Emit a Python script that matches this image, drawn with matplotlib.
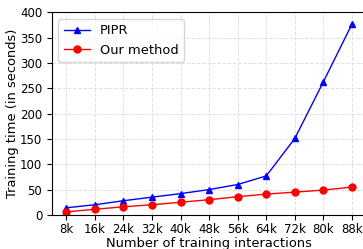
import matplotlib
matplotlib.use("Agg")
import matplotlib.pyplot as plt

categories = ["8k", "16k", "24k", "32k", "40k", "48k", "56k", "64k", "72k", "80k", "88k"]
pipr = [14, 20, 28, 35, 42, 50, 60, 77, 151, 263, 377]
ours = [6, 11, 16, 20, 25, 30, 36, 41, 45, 49, 55]

fig = plt.figure(figsize=(3.63, 2.49), dpi=100)
ax = fig.add_axes([0.143, 0.137, 0.866, 0.813])
x = list(range(len(categories)))
ax.plot(x, pipr, color="blue", marker="^", markersize=5, linewidth=1, label="PIPR")
ax.plot(x, ours, color="red", marker="o", markersize=5, linewidth=1, label="Our method")
ax.set_xticks(x)
ax.set_xticklabels(categories)
ax.set_ylim(0, 400)
ax.set_yticks(range(0, 401, 50))
ax.tick_params(labelsize=8.5)
ax.tick_params(axis="x", pad=2)
ax.grid(True, linestyle="--", color="#e0e0e0", linewidth=0.7)
ax.set_xlabel("Number of training interactions", fontsize=9.4, labelpad=1)
ax.set_ylabel("Training time (in seconds)", fontsize=9.4, labelpad=1)
ax.legend(loc="upper left", fontsize=9.4)
fig.savefig("out.png", dpi=100)
